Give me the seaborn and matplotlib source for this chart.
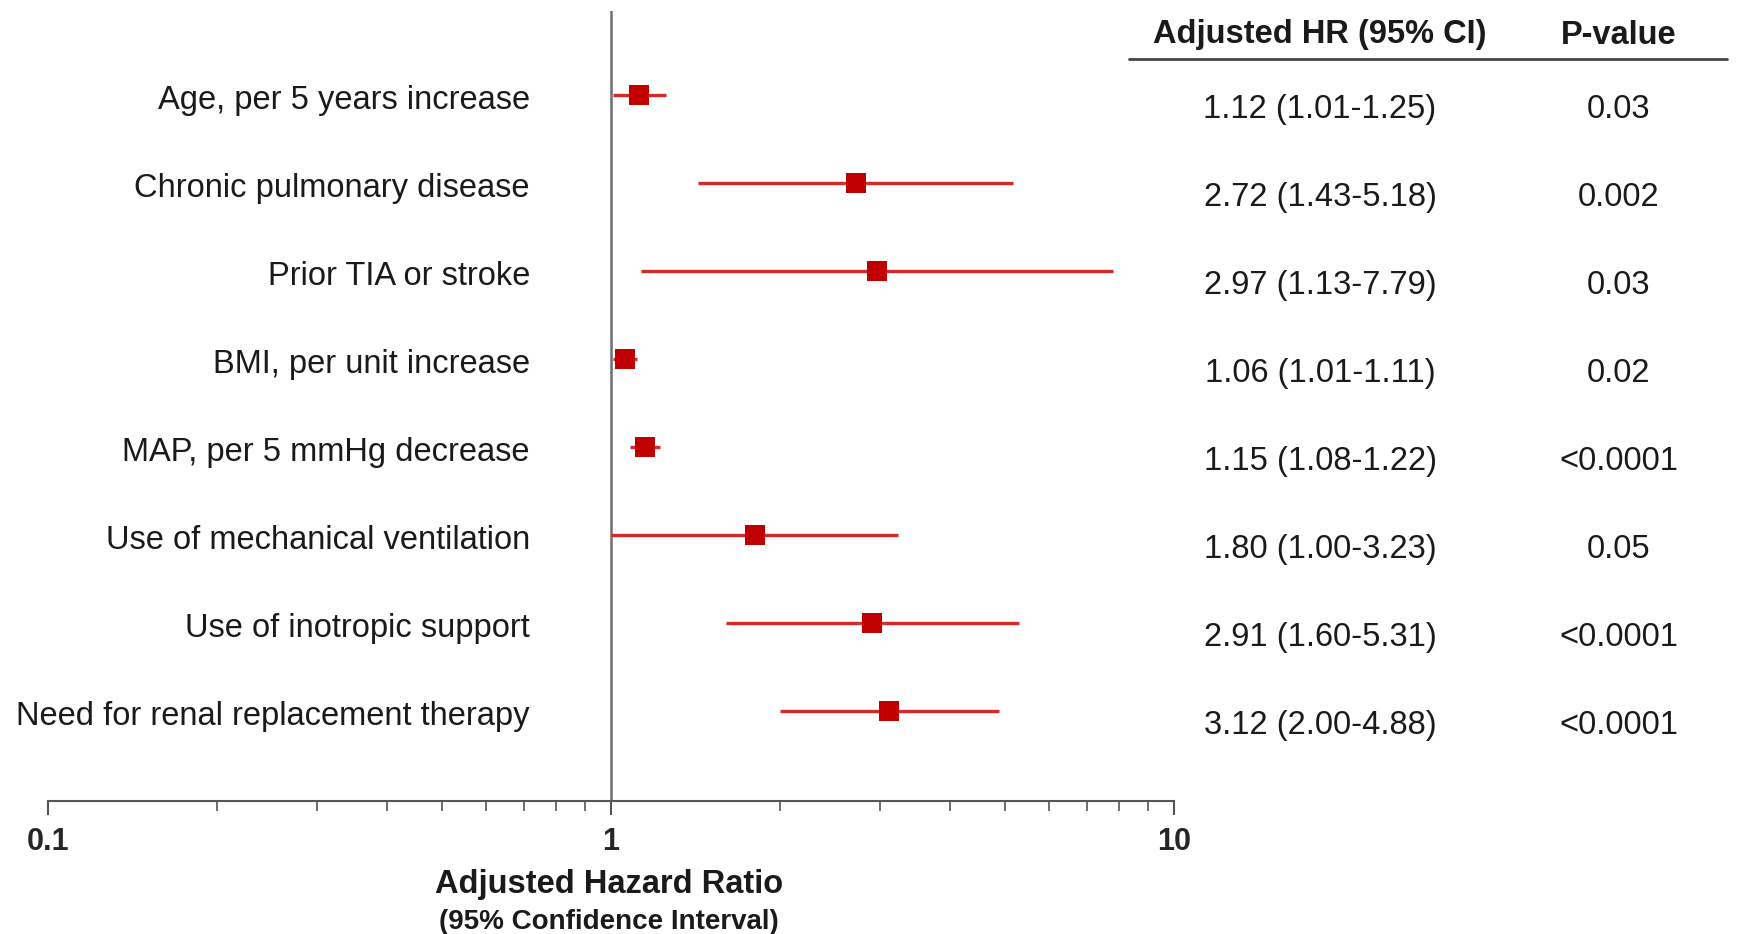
import matplotlib
matplotlib.use('Agg')
import matplotlib.pyplot as plt
import matplotlib.transforms as mtransforms
from matplotlib.lines import Line2D
from matplotlib.ticker import FixedLocator, LogLocator, NullFormatter
import seaborn as sns
import pandas as pd

# values
variables = [
    'Age, per 5 years increase',
    'Chronic pulmonary disease',
    'Prior TIA or stroke',
    'BMI, per unit increase',
    'MAP, per 5 mmHg decrease',
    'Use of mechanical ventilation',
    'Use of inotropic support',
    'Need for renal replacement therapy',
]
hr = [1.12, 2.72, 2.97, 1.06, 1.15, 1.80, 2.91, 3.12]
ci_low = [1.01, 1.43, 1.13, 1.01, 1.08, 1.00, 1.60, 2.00]
ci_high = [1.25, 5.18, 7.79, 1.11, 1.22, 3.23, 5.31, 4.88]
p_values = ['0.03', '0.002', '0.03', '0.02', '<0.0001', '0.05', '<0.0001', '<0.0001']
x_ticks = [0.1, 1, 10]
x_tick_labels = ['0.1', '1', '10']

sns.set_style('white')
plt.rcParams['font.family'] = ['Liberation Sans', 'DejaVu Sans']

df = pd.DataFrame({'variable': variables, 'hr': hr, 'lo': ci_low,
                   'hi': ci_high, 'p': p_values})
df['row'] = range(len(df))

W, H = 1739, 934
fig = plt.figure(figsize=(W / 100, H / 100), dpi=100)
ax = fig.add_axes([48 / W, 1 - 801 / H, 1126 / W, 790 / H])

ax.axvline(1, color='#6e6e6e', lw=1.8, zorder=1)
ax.hlines(df['row'], df['lo'], df['hi'], color='#d42a2a', lw=2.4, zorder=2)
sns.scatterplot(data=df, x='hr', y='row', marker='s', s=207, color='#c00000',
                edgecolor='none', linewidth=0, ax=ax, zorder=3, legend=False)

ax.set_xscale('log')
ax.set_xlim(0.1, 10)
ax.set_ylim(8.02, -0.955)
ax.set_yticks([])
ax.set_xlabel('')
ax.set_ylabel('')
sns.despine(ax=ax, left=True)
ax.spines['bottom'].set_color('#555555')
ax.spines['bottom'].set_linewidth(1.5)

ax.xaxis.set_major_locator(FixedLocator(x_ticks))
ax.set_xticklabels(x_tick_labels, fontsize=22, fontweight='bold')
ax.xaxis.set_minor_locator(LogLocator(base=10, subs=range(2, 10)))
ax.xaxis.set_minor_formatter(NullFormatter())
ax.tick_params(axis='x', which='major', bottom=True, direction='out', length=10,
               width=1.5, color='#555555', pad=9)
ax.tick_params(axis='x', which='minor', bottom=True, direction='out', length=7,
               width=1.2, color='#555555')

# variable names on the left
lab_tr = mtransforms.blended_transform_factory(ax.transAxes, ax.transData)
for _, r in df.iterrows():
    ax.text(0.428, r['row'] + 0.06, r['variable'], transform=lab_tr, ha='right',
            va='center', fontsize=23.5, color='#1a1a1a')

# table on the right
tab_tr = mtransforms.blended_transform_factory(fig.transFigure, ax.transData)
for _, r in df.iterrows():
    ax.text(1320 / W, r['row'] + 0.16, f"{r['hr']:.2f} ({r['lo']:.2f}-{r['hi']:.2f})",
            transform=tab_tr, ha='center', va='center', fontsize=23.5, color='#1a1a1a')
    ax.text(1619 / W, r['row'] + 0.16, r['p'], transform=tab_tr, ha='center',
            va='center', fontsize=23.5, color='#1a1a1a')

fig.text(1320 / W, 1 - 35 / H, 'Adjusted HR (95% CI)', ha='center', va='center',
         fontsize=23.5, fontweight='bold', color='#1a1a1a')
fig.text(1619 / W, 1 - 35 / H, 'P-value', ha='center', va='center',
         fontsize=23.5, fontweight='bold', color='#1a1a1a')
fig.add_artist(Line2D([1129 / W, 1727 / W], [1 - 59 / H, 1 - 59 / H],
                      color='#444444', lw=2))

fig.text(609 / W, 1 - 884 / H, 'Adjusted Hazard Ratio', ha='center', va='center',
         fontsize=23.5, fontweight='bold', color='#1a1a1a')
fig.text(609 / W, 1 - 922 / H, '(95% Confidence Interval)', ha='center', va='center',
         fontsize=20, fontweight='bold', color='#1a1a1a')

fig.savefig('out.png', dpi=100)
